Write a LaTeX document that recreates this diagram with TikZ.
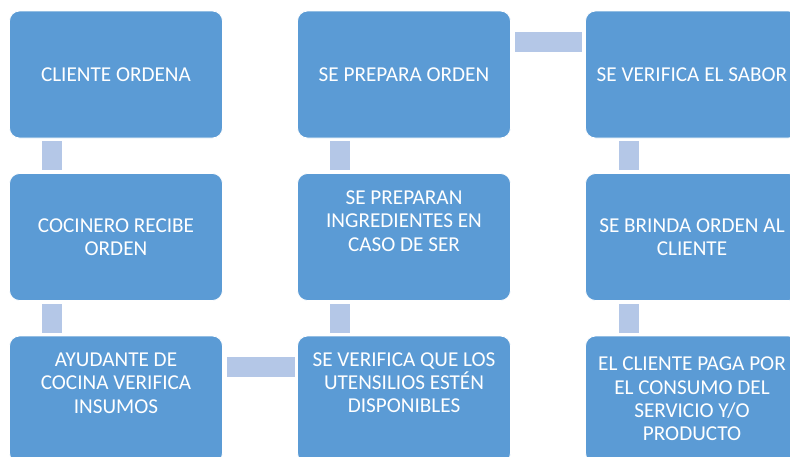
\documentclass[tikz,border=0pt]{standalone}
\usepackage{fontspec}
\setmainfont{Carlito}
\usetikzlibrary{calc}
\definecolor{boxblue}{HTML}{5B9BD5}
\definecolor{connblue}{HTML}{B4C7E7}
\begin{document}
\begin{tikzpicture}[x=1pt,y=-1pt,
  flowbox/.style={rectangle, rounded corners=10pt, fill=boxblue, draw=white, line width=0.8pt, minimum width=213pt, minimum height=127pt, inner sep=0pt},
  flowtext/.style={text=white, align=center, inner sep=0pt, font=\fontsize{21.2}{23.3}\selectfont},
  conn/.style={fill=connblue}]
\useasboundingbox (0,0) rectangle (790,456);
\fill[white] (0,0) rectangle (790,456);
\clip (0,0) rectangle (790,456);
% boxes
\node[flowbox] (a1) at (116,74.5) {};
\node[flowbox] (a2) at (116,237) {};
\node[flowbox] (a3) at (116,399.5) {};
\node[flowbox] (b1) at (404,74.5) {};
\node[flowbox] (b2) at (404,237) {};
\node[flowbox] (b3) at (404,399.5) {};
\node[flowbox] (c1) at (692,74.5) {};
\node[flowbox] (c2) at (692,237) {};
\node[flowbox] (c3) at (692,399.5) {};
% connectors
\fill[conn] ($(a1.south west)+(32.5,3)$) rectangle ($(a2.north west)+(52.5,-3)$);
\fill[conn] ($(a2.south west)+(32.5,3)$) rectangle ($(a3.north west)+(52.5,-3)$);
\fill[conn] ($(b1.south west)+(32.5,3)$) rectangle ($(b2.north west)+(52.5,-3)$);
\fill[conn] ($(b2.south west)+(32.5,3)$) rectangle ($(b3.north west)+(52.5,-3)$);
\fill[conn] ($(c1.south west)+(33.5,3)$) rectangle ($(c2.north west)+(53.5,-3)$);
\fill[conn] ($(c2.south west)+(33.5,3)$) rectangle ($(c3.north west)+(53.5,-3)$);
\fill[conn] ($(b1.north east)+(4,21.5)$) rectangle ($(c1.north west)+(-3,41)$);
\fill[conn] ($(a3.north east)+(4,21)$) rectangle ($(b3.north west)+(-2.5,41)$);
% texts
\node[flowtext] (ta1) at (a1.center) {CLIENTE ORDENA};
\node[flowtext] (ta2) at (a2.center) {COCINERO RECIBE\\ORDEN};
\node[flowtext] (ta3) at ($(a3.center)+(0,-16.5)$) {AYUDANTE DE\\COCINA VERIFICA\\INSUMOS};
\node[flowtext] (tb1) at (b1.center) {SE PREPARA ORDEN};
\node[flowtext] (tb2) at ($(b2.center)+(0,-16)$) {SE PREPARAN\\INGREDIENTES EN\\CASO DE SER};
\node[flowtext] (tb3) at ($(b3.center)+(0,-17)$) {SE VERIFICA QUE LOS\\UTENSILIOS ESTÉN\\DISPONIBLES};
\node[flowtext] (tc1) at (c1.center) {SE VERIFICA EL SABOR};
\node[flowtext] (tc2) at (c2.center) {SE BRINDA ORDEN AL\\CLIENTE};
\node[flowtext] (tc3) at ($(c3.center)+(0,-0.5)$) {EL CLIENTE PAGA POR\\EL CONSUMO DEL\\SERVICIO Y/O\\PRODUCTO};
\end{tikzpicture}
\end{document}
